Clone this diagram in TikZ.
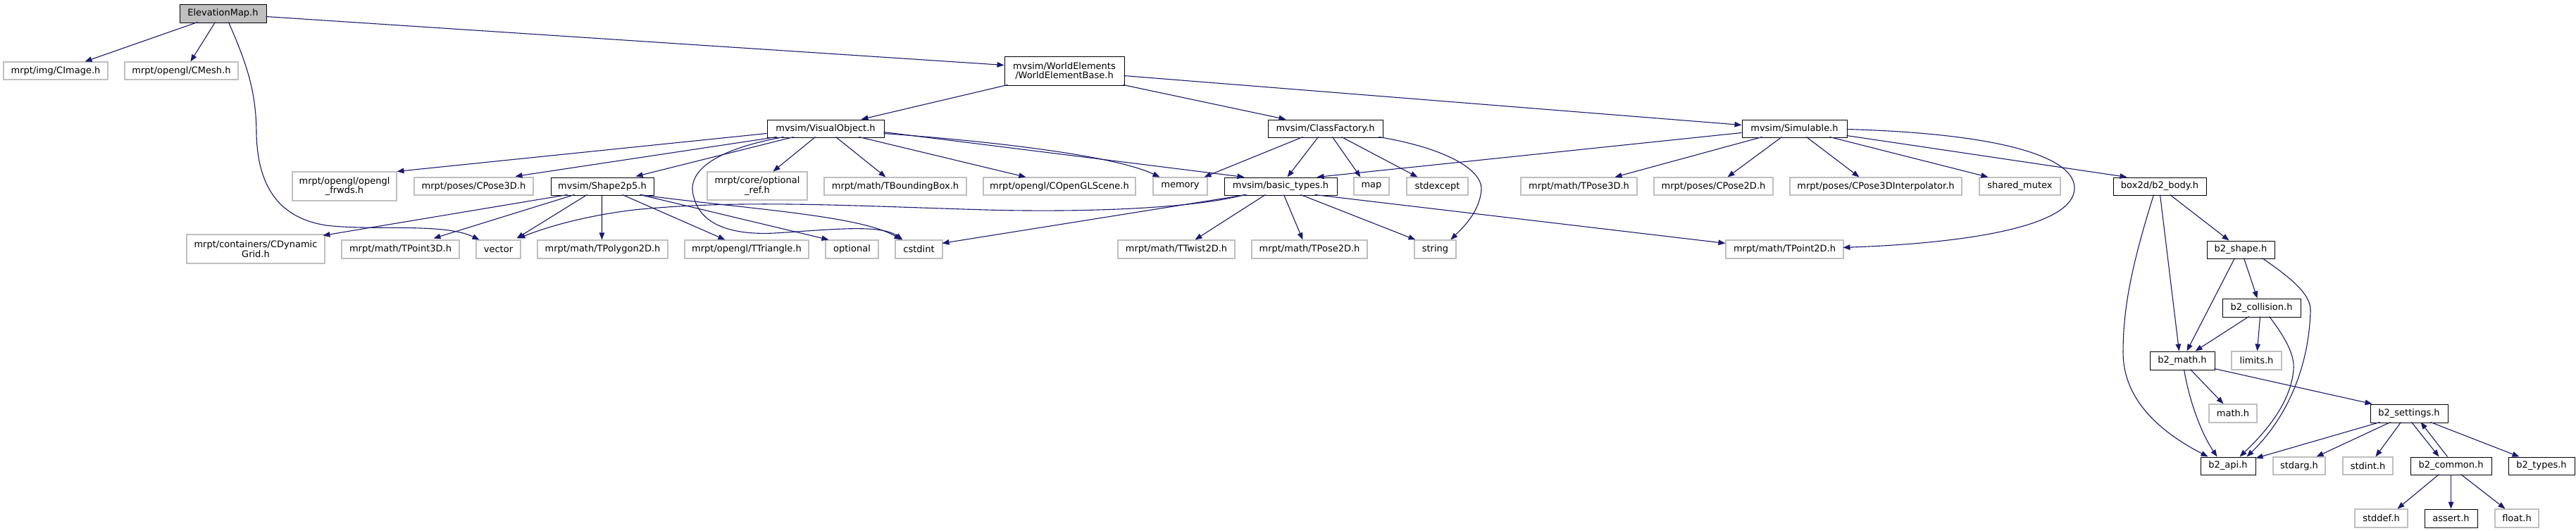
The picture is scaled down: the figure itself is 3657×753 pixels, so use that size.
\documentclass[tikz,border=0pt]{standalone}
\usepackage{fontspec}
\setmainfont{DejaVu Sans}
\usetikzlibrary{arrows.meta,calc}
\definecolor{edgec}{HTML}{191970}
\definecolor{grayb}{HTML}{BFBFBF}
\definecolor{fillg}{HTML}{BFBFBF}
\tikzset{
 box/.style={draw, rectangle, inner sep=0pt, line width=1.1pt, align=center, font=\fontsize{13}{13.5}\selectfont},
 known/.style={box, draw=black, line width=1pt},
 ext/.style={box, draw=grayb},
 root/.style={box, draw=black, line width=1pt, fill=fillg},
 dep/.style={draw=edgec, line width=1.1pt, -{Triangle[length=10pt,width=7.5pt]}},
}
\newcommand{\gnode}[7]{\node[#1, minimum width={(#5-#3)*1pt}, minimum height={(#6-#4)*1pt}] (#2) at ({(#3+#5)/2},{(#4+#6)/2}) {#7};}
\begin{document}
\begin{tikzpicture}[x=1pt,y=-1pt]
\fill[white] (0,0) rectangle (3657,753);
\useasboundingbox (0,0) rectangle (3657,753);
% nodes
\gnode{root}{em}{255}{6}{378}{32}{ElevationMap.h}
\gnode{ext}{cimg}{5}{88}{153}{113}{mrpt/img/CImage.h}
\gnode{ext}{cmesh}{177}{88}{338}{113}{mrpt/opengl/CMesh.h}
\gnode{known}{web}{1426}{80}{1596}{121}{mvsim/WorldElements\\/WorldElementBase.h}
\gnode{known}{vo}{1089}{170}{1255}{195}{mvsim/VisualObject.h}
\gnode{known}{cf}{1800}{170}{1963}{195}{mvsim/ClassFactory.h}
\gnode{known}{sim}{2473}{170}{2622}{195}{mvsim/Simulable.h}
\gnode{ext}{frw}{415}{244}{563}{285}{mrpt/opengl/opengl\\\_frwds.h}
\gnode{ext}{cp3}{588}{252}{757}{277}{mrpt/poses/CPose3D.h}
\gnode{known}{shp}{782}{252}{928}{277}{mvsim/Shape2p5.h}
\gnode{ext}{oref}{1004}{244}{1146}{284}{mrpt/core/optional\\\_ref.h}
\gnode{ext}{tbb}{1170}{252}{1372}{277}{mrpt/math/TBoundingBox.h}
\gnode{ext}{cogl}{1396}{252}{1612}{277}{mrpt/opengl/COpenGLScene.h}
\gnode{ext}{mem}{1637}{252}{1714}{277}{memory}
\gnode{known}{bt}{1738}{252}{1898}{277}{mvsim/basic\_types.h}
\gnode{ext}{map}{1922}{252}{1972}{277}{map}
\gnode{ext}{sexc}{1997}{252}{2084}{277}{stdexcept}
\gnode{ext}{tp3}{2159}{252}{2324}{277}{mrpt/math/TPose3D.h}
\gnode{ext}{cp2}{2348}{252}{2517}{277}{mrpt/poses/CPose2D.h}
\gnode{ext}{cp3i}{2541}{252}{2785}{277}{mrpt/poses/CPose3DInterpolator.h}
\gnode{ext}{smx}{2810}{252}{2925}{277}{shared\_mutex}
\gnode{known}{body}{3000}{252}{3132}{277}{box2d/b2\_body.h}
\gnode{ext}{cdg}{265}{333}{461}{374}{mrpt/containers/CDynamic\\Grid.h}
\gnode{ext}{tpt3}{485}{341}{652}{367}{mrpt/math/TPoint3D.h}
\gnode{ext}{vec}{676}{341}{739}{367}{vector}
\gnode{ext}{tpoly}{763}{341}{948}{367}{mrpt/math/TPolygon2D.h}
\gnode{ext}{ttri}{972}{341}{1148}{367}{mrpt/opengl/TTriangle.h}
\gnode{ext}{opt}{1172}{341}{1247}{367}{optional}
\gnode{ext}{cst}{1271}{341}{1338}{367}{cstdint}
\gnode{ext}{ttw}{1587}{341}{1753}{367}{mrpt/math/TTwist2D.h}
\gnode{ext}{tp2}{1777}{341}{1941}{367}{mrpt/math/TPose2D.h}
\gnode{ext}{str}{2008}{341}{2067}{367}{string}
\gnode{ext}{tpt2}{2450}{341}{2617}{367}{mrpt/math/TPoint2D.h}
\gnode{known}{shape}{3133}{342}{3229}{367}{b2\_shape.h}
\gnode{known}{coll}{3155}{424}{3266}{450}{b2\_collision.h}
\gnode{known}{bmath}{3052}{499}{3144}{525}{b2\_math.h}
\gnode{ext}{lim}{3168}{499}{3239}{525}{limits.h}
\gnode{ext}{mth}{3136}{574}{3204}{600}{math.h}
\gnode{known}{sett}{3365}{574}{3475}{600}{b2\_settings.h}
\gnode{known}{api}{3124}{649}{3202}{674}{b2\_api.h}
\gnode{ext}{sarg}{3227}{649}{3301}{674}{stdarg.h}
\gnode{ext}{sint}{3326}{649}{3397}{674}{stdint.h}
\gnode{known}{comm}{3422}{649}{3537}{674}{b2\_common.h}
\gnode{known}{typ}{3561}{649}{3655}{674}{b2\_types.h}
\gnode{ext}{sdef}{3343}{723}{3418}{749}{stddef.h}
\gnode{known}{asrt}{3442}{723}{3517}{749}{assert.h}
\gnode{ext}{flt}{3542}{723}{3604}{749}{float.h}
% edges: ElevationMap
\draw[dep] ($(em.north west)+(26,26)$) -- ($(cimg.north west)+(116,0)$);
\draw[dep] ($(em.north west)+(51,26)$) -- ($(cmesh.north west)+(94,0)$);
\draw[dep] ($(em.north west)+(70,26)$) .. controls (350,90) and (364,130) .. (364,190) .. controls (366,270) and (400,310) .. (463,320) .. controls (530,328) and (630,316) .. ($(vec.north west)+(5,0)$);
\draw[dep] ($(em.north west)+(123,18)$) -- ($(web.north west)+(0,13)$);
% WorldElementBase
\draw[dep] ($(web.north west)+(5,41)$) -- ($(vo.north west)+(134,0)$);
\draw[dep] ($(web.north west)+(169,41)$) -- ($(cf.north west)+(26,0)$);
\draw[dep] ($(web.north west)+(170,28)$) -- ($(sim.north west)+(0,8)$);
% VisualObject
\draw[dep] ($(vo.north west)+(0,20)$) -- ($(frw.north west)+(149,0)$);
\draw[dep] ($(vo.north west)+(14,25)$) -- ($(cp3.north west)+(144,-1)$);
\draw[dep] ($(vo.north west)+(38,25)$) -- ($(shp.north west)+(121,-1)$);
\draw[dep] ($(vo.north west)+(24,25)$) .. controls (1000,215) and (975,250) .. (985,280) .. controls (995,320) and (1040,334) .. (1100,331) .. controls (1180,326) and (1250,318) .. ($(cst.north west)+(11,0)$);
\draw[dep] ($(vo.north west)+(69,25)$) -- ($(oref.north west)+(94,0)$);
\draw[dep] ($(vo.north west)+(98,25)$) -- ($(tbb.north west)+(88,0)$);
\draw[dep] ($(vo.north west)+(131,25)$) -- ($(cogl.north west)+(61,0)$);
\draw[dep] ($(vo.north west)+(166,20)$) .. controls (1400,200) and (1580,220) .. ($(mem.north west)+(10,0)$);
\draw[dep] ($(vo.north west)+(166,18)$) -- ($(bt.north west)+(29,0)$);
% Shape2p5
\draw[dep] ($(shp.north west)+(24,25)$) -- ($(cdg.north west)+(194,2)$);
\draw[dep] ($(shp.north west)+(34,25)$) -- ($(tpt3.north west)+(131,-2)$);
\draw[dep] ($(shp.north west)+(52,25)$) -- ($(vec.north west)+(58,-2)$);
\draw[dep] ($(shp.north west)+(73,25)$) -- ($(tpoly.north west)+(92,0)$);
\draw[dep] ($(shp.north west)+(102,25)$) -- ($(ttri.north west)+(58,0)$);
\draw[dep] ($(shp.north west)+(127,25)$) -- ($(opt.north west)+(5,0)$);
\draw[dep] ($(shp.north west)+(127,25)$) .. controls (1050,296) and (1220,305) .. ($(cst.north west)+(9,0)$);
% basic_types
\draw[dep] ($(bt.north west)+(32,25)$) -- ($(cst.north west)+(67,5)$);
\draw[dep] ($(bt.north west)+(29,25)$) .. controls (1700,295) and (1550,302) .. (1400,298) .. controls (1200,292) and (1050,283) .. (900,298) .. controls (820,308) and (770,325) .. ($(vec.north west)+(60,-2)$);
\draw[dep] ($(bt.north west)+(59,25)$) -- ($(ttw.north west)+(110,0)$);
\draw[dep] ($(bt.north west)+(85,25)$) -- ($(tp2.north west)+(73,0)$);
\draw[dep] ($(bt.north west)+(109,25)$) -- ($(str.north west)+(2,0)$);
\draw[dep] ($(bt.north west)+(129,25)$) -- ($(tpt2.north west)+(0,5)$);
% ClassFactory
\draw[dep] ($(cf.north west)+(50,25)$) -- ($(mem.north west)+(73,0)$);
\draw[dep] ($(cf.north west)+(72,25)$) -- ($(bt.north west)+(90,0)$);
\draw[dep] ($(cf.north west)+(92,25)$) -- ($(map.north west)+(10,0)$);
\draw[dep] ($(cf.north west)+(105,25)$) -- ($(sexc.north west)+(16,0)$);
\draw[dep] ($(cf.north west)+(158,25)$) .. controls (2050,210) and (2105,240) .. (2103,270) .. controls (2100,300) and (2080,320) .. ($(str.north west)+(52,0)$);
% Simulable
\draw[dep] ($(sim.north west)+(0,19)$) -- ($(bt.north west)+(132,0)$);
\draw[dep] ($(sim.north west)+(29,25)$) -- ($(tp3.north west)+(134,0)$);
\draw[dep] ($(sim.north west)+(57,25)$) -- ($(cp2.north west)+(105,0)$);
\draw[dep] ($(sim.north west)+(92,25)$) -- ($(cp3i.north west)+(99,0)$);
\draw[dep] ($(sim.north west)+(125,25)$) -- ($(smx.north west)+(13,0)$);
\draw[dep] ($(sim.north west)+(149,23)$) -- ($(body.north west)+(20,0)$);
\draw[dep] ($(sim.north west)+(149,14)$) .. controls (2850,190) and (2945,225) .. (2945,267) .. controls (2945,320) and (2800,345) .. ($(tpt2.north west)+(167,11)$);
% b2_body
\draw[dep] ($(body.north west)+(58,25)$) .. controls (3025,380) and (3014,440) .. (3014,500) .. controls (3014,570) and (3070,615) .. ($(api.north west)+(11,0)$);
\draw[dep] ($(body.north west)+(67,25)$) -- ($(bmath.north west)+(42,0)$);
\draw[dep] ($(body.north west)+(81,25)$) -- ($(shape.north west)+(32,0)$);
% b2_shape
\draw[dep] ($(shape.north west)+(40,25)$) -- ($(bmath.north west)+(53,0)$);
\draw[dep] ($(shape.north west)+(53,25)$) -- ($(coll.north west)+(50,0)$);
\draw[dep] ($(shape.north west)+(79,25)$) .. controls (3245,390) and (3280,415) .. (3280,440) .. controls (3278,530) and (3240,600) .. ($(api.north west)+(66,0)$);
% b2_collision
\draw[dep] ($(coll.north west)+(38,26)$) -- ($(bmath.north west)+(65,0)$);
\draw[dep] ($(coll.north west)+(54,26)$) -- ($(lim.north west)+(37,0)$);
\draw[dep] ($(coll.north west)+(67,26)$) .. controls (3245,480) and (3258,505) .. (3256,525) .. controls (3252,570) and (3220,610) .. ($(api.north west)+(56,0)$);
% b2_math
\draw[dep] ($(bmath.north west)+(49,26)$) .. controls (3108,570) and (3125,615) .. ($(api.north west)+(24,0)$);
\draw[dep] ($(bmath.north west)+(58,26)$) -- ($(mth.north west)+(21,0)$);
\draw[dep] ($(bmath.north west)+(92,25)$) -- ($(sett.north west)+(3,0)$);
% b2_settings
\draw[dep] ($(sett.north west)+(14,26)$) -- ($(api.north west)+(79,2)$);
\draw[dep] ($(sett.north west)+(29,26)$) -- ($(sarg.north west)+(62,0)$);
\draw[dep] ($(sett.north west)+(44,26)$) -- ($(sint.north west)+(47,0)$);
\draw[dep] ($(sett.north west)+(59,26)$) -- ($(comm.north west)+(41,0)$);
\draw[dep] ($(sett.north west)+(86,26)$) -- ($(typ.north west)+(16,0)$);
% b2_common
\draw[dep] ($(comm.north west)+(53,0)$) -- ($(sett.north west)+(72,26)$);
\draw[dep] ($(comm.north west)+(41,25)$) -- ($(sdef.north west)+(61,0)$);
\draw[dep] ($(comm.north west)+(58,25)$) -- ($(asrt.north west)+(38,0)$);
\draw[dep] ($(comm.north west)+(72,25)$) -- ($(flt.north west)+(15,0)$);
\end{tikzpicture}
\end{document}
